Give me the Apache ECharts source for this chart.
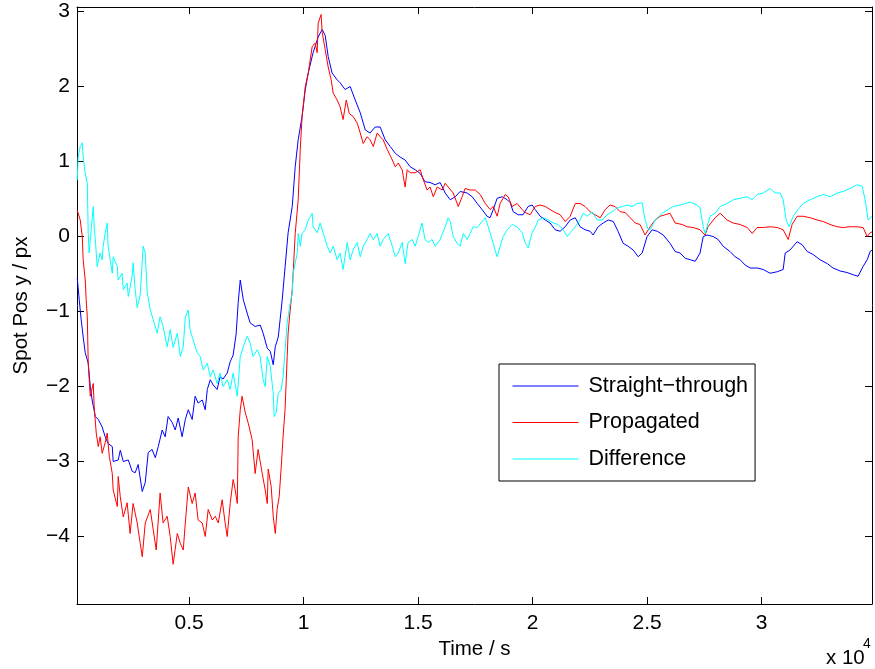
<!DOCTYPE html>
<html>
<head>
<meta charset="utf-8">
<script src="https://cdn.jsdelivr.net/npm/echarts@6/dist/echarts.min.js"></script>
<style>
  html, body { margin: 0; padding: 0; background: #fff; }
  #chart { width: 875px; height: 669px; }
</style>
</head>
<body>
<div id="chart"></div>
<script>
// Time in seconds, position in px
const seriesNames = ['Straight\u2212through', 'Propagated', 'Difference'];
const xTicks = [5000, 10000, 15000, 20000, 25000, 30000];
const yTicks = [-4, -3, -2, -1, 0, 1, 2, 3];

const straightThrough = [
[110,-0.55],[200,-0.85],[280,-1.1],[370,-1.34],[460,-1.55],[590,-1.69],[680,-2.0],[760,-2.18],[900,-2.4],[1030,-2.44],[1200,-2.54],[1330,-2.67],[1460,-2.76],[1640,-2.8],[1680,-3.0],[1900,-2.98],[1990,-2.85],[2120,-3.0],[2340,-2.98],[2510,-3.13],[2640,-3.15],[2770,-3.04],[2950,-3.4],[3080,-3.28],[3210,-2.88],[3380,-2.84],[3520,-2.95],[3650,-2.8],[3820,-2.58],[3950,-2.67],[4080,-2.4],[4260,-2.48],[4390,-2.58],[4520,-2.42],[4690,-2.67],[4830,-2.44],[4960,-2.31],[5130,-2.44],[5260,-2.13],[5390,-2.22],[5570,-2.18],[5700,-2.31],[5790,-2.04],[5920,-1.91],[6050,-1.98],[6220,-2.04],[6350,-1.87],[6480,-1.9],[6660,-1.82],[6790,-1.67],[6920,-1.58],[7050,-1.3],[7140,-0.88],[7230,-0.58],[7360,-0.84],[7530,-1.02],[7660,-1.15],[7880,-1.2],[8100,-1.18],[8230,-1.29],[8410,-1.49],[8540,-1.53],[8670,-1.71],[8760,-1.47],[8890,-1.34],[8970,-1.11],[9060,-0.85],[9190,-0.4],[9320,0.05],[9500,0.4],[9630,0.93],[9760,1.29],[9930,1.6],[10070,1.96],[10200,2.18],[10410,2.45],[10630,2.66],[10810,2.76],[10940,2.68],[11070,2.4],[11240,2.18],[11460,2.09],[11590,2.05],[11810,1.96],[12030,2.0],[12250,1.82],[12470,1.65],[12690,1.42],[12900,1.38],[13120,1.46],[13340,1.46],[13560,1.29],[13780,1.2],[14000,1.11],[14210,1.06],[14430,1.02],[14650,0.93],[14870,0.89],[15090,0.84],[15300,0.73],[15520,0.72],[15740,0.69],[15960,0.72],[16180,0.58],[16400,0.49],[16620,0.53],[16830,0.6],[17140,0.58],[17360,0.53],[17580,0.44],[17790,0.36],[18010,0.27],[18140,0.25],[18280,0.36],[18450,0.51],[18670,0.53],[18890,0.49],[19020,0.45],[19150,0.33],[19370,0.29],[19580,0.29],[19800,0.4],[19980,0.42],[20110,0.36],[20330,0.27],[20550,0.22],[20760,0.18],[20980,0.09],[21200,0.07],[21420,0.13],[21640,0.22],[21860,0.25],[22070,0.13],[22290,0.09],[22510,0.07],[22640,0.02],[22860,0.13],[23080,0.18],[23300,0.22],[23520,0.2],[23730,0.07],[23950,-0.09],[24170,-0.13],[24390,-0.18],[24610,-0.27],[24780,-0.22],[25000,0.0],[25220,0.09],[25440,0.07],[25700,0.02],[26000,-0.09],[26220,-0.2],[26440,-0.22],[26660,-0.29],[26880,-0.31],[27100,-0.33],[27310,-0.22],[27450,0.0],[27620,0.02],[27880,0.0],[28100,-0.04],[28320,-0.13],[28620,-0.2],[28840,-0.27],[29060,-0.31],[29280,-0.38],[29500,-0.42],[29800,-0.42],[30070,-0.44],[30370,-0.49],[30680,-0.47],[30940,-0.44],[31030,-0.22],[31240,-0.18],[31550,-0.07],[31770,-0.11],[31990,-0.2],[32250,-0.24],[32550,-0.31],[32860,-0.36],[33120,-0.42],[33430,-0.46],[33730,-0.48],[34000,-0.51],[34210,-0.53],[34430,-0.4],[34610,-0.31],[34740,-0.2],[34820,-0.18]
];

const propagated = [
[110,0.35],[240,0.22],[330,0.0],[370,-0.31],[460,-0.58],[500,-0.84],[550,-1.07],[590,-1.69],[680,-2.13],[810,-1.96],[850,-2.27],[940,-2.62],[1030,-2.8],[1110,-2.67],[1200,-2.89],[1330,-2.75],[1420,-2.62],[1510,-2.93],[1640,-3.16],[1680,-3.38],[1860,-3.6],[1900,-3.2],[1990,-3.47],[2120,-3.74],[2290,-3.55],[2420,-3.96],[2550,-3.56],[2730,-3.82],[2860,-4.09],[2950,-4.27],[3080,-3.82],[3300,-3.64],[3430,-3.91],[3560,-4.18],[3730,-3.42],[3860,-3.82],[4040,-3.73],[4170,-4.0],[4300,-4.37],[4480,-3.96],[4610,-4.09],[4740,-4.18],[4830,-3.82],[4960,-3.34],[5130,-3.56],[5260,-3.42],[5390,-3.78],[5570,-3.82],[5700,-4.0],[5830,-3.64],[6010,-3.78],[6140,-3.73],[6270,-3.82],[6440,-3.51],[6570,-3.82],[6660,-4.0],[6790,-3.56],[6920,-3.24],[7010,-3.38],[7100,-3.56],[7140,-2.67],[7230,-2.31],[7310,-2.13],[7450,-2.35],[7580,-2.49],[7750,-2.71],[7880,-3.16],[8010,-2.84],[8190,-3.16],[8320,-3.38],[8410,-3.56],[8450,-3.1],[8580,-3.33],[8670,-3.73],[8760,-3.96],[8840,-3.64],[8930,-3.47],[9020,-3.07],[9100,-2.67],[9190,-2.29],[9280,-1.6],[9320,-1.29],[9410,-0.98],[9500,-0.71],[9540,-0.49],[9630,0.04],[9760,0.49],[9850,1.16],[9930,1.6],[10070,2.0],[10200,2.18],[10370,2.53],[10500,2.58],[10590,2.45],[10630,2.84],[10760,2.96],[10810,2.72],[10940,2.49],[11070,2.26],[11200,2.09],[11290,1.91],[11460,1.82],[11590,1.73],[11720,1.56],[11860,1.82],[11990,1.64],[12160,1.6],[12340,1.51],[12470,1.38],[12600,1.24],[12770,1.33],[12900,1.29],[13040,1.2],[13210,1.38],[13340,1.33],[13470,1.29],[13650,1.16],[13870,1.02],[14000,0.93],[14130,0.98],[14300,0.89],[14430,0.66],[14520,0.89],[14650,0.85],[14870,0.85],[15090,0.89],[15220,0.76],[15390,0.62],[15520,0.66],[15660,0.53],[15830,0.66],[16050,0.62],[16180,0.71],[16310,0.66],[16530,0.58],[16750,0.4],[16920,0.53],[17050,0.64],[17270,0.62],[17490,0.62],[17710,0.56],[17930,0.44],[18140,0.36],[18280,0.4],[18450,0.27],[18580,0.44],[18800,0.56],[18930,0.53],[19100,0.4],[19320,0.44],[19540,0.36],[19670,0.32],[19890,0.29],[20110,0.4],[20330,0.42],[20550,0.4],[20760,0.36],[20980,0.32],[21200,0.29],[21420,0.2],[21640,0.27],[21860,0.44],[22070,0.44],[22290,0.4],[22510,0.33],[22730,0.29],[22950,0.25],[23170,0.36],[23380,0.42],[23600,0.4],[23820,0.33],[24040,0.32],[24260,0.25],[24480,0.18],[24690,0.16],[24910,0.02],[25130,0.13],[25350,0.22],[25570,0.27],[25790,0.29],[26000,0.31],[26220,0.18],[26530,0.16],[26750,0.13],[27010,0.12],[27310,0.09],[27530,0.02],[27660,0.13],[27970,0.25],[28190,0.31],[28490,0.22],[28760,0.18],[29060,0.16],[29370,0.12],[29590,0.04],[29800,0.12],[30070,0.12],[30370,0.13],[30680,0.12],[30940,0.09],[31160,-0.04],[31330,0.16],[31550,0.27],[31810,0.27],[32120,0.25],[32420,0.22],[32690,0.2],[32990,0.16],[33300,0.13],[33560,0.12],[33860,0.13],[34170,0.13],[34430,0.12],[34610,0.0],[34740,0.05],[34820,0.06]
];

const difference = [
[110,0.75],[150,1.06],[240,1.2],[330,1.25],[370,1.06],[460,0.84],[550,0.71],[590,0.04],[630,-0.22],[720,0.09],[810,0.4],[850,0.13],[900,-0.04],[980,-0.4],[1110,-0.22],[1200,-0.31],[1240,-0.13],[1330,0.04],[1420,0.18],[1460,-0.13],[1550,-0.31],[1640,-0.49],[1680,-0.27],[1860,-0.4],[1900,-0.58],[2070,-0.49],[2120,-0.71],[2290,-0.62],[2340,-0.8],[2510,-0.53],[2550,-0.35],[2640,-0.71],[2730,-0.95],[2860,-0.78],[2990,-0.13],[3080,-0.22],[3170,-0.75],[3300,-0.98],[3430,-1.11],[3600,-1.29],[3730,-1.07],[3860,-1.2],[4040,-1.47],[4170,-1.24],[4300,-1.48],[4480,-1.29],[4610,-1.6],[4740,-1.47],[4830,-1.07],[4960,-0.98],[5040,-1.24],[5170,-1.38],[5350,-1.55],[5480,-1.6],[5610,-1.78],[5790,-1.69],[5920,-1.87],[6050,-1.78],[6220,-1.96],[6350,-1.82],[6480,-2.0],[6660,-1.91],[6790,-2.04],[6920,-1.82],[7100,-2.13],[7230,-1.6],[7360,-1.47],[7530,-1.33],[7660,-1.42],[7790,-1.6],[7970,-1.51],[8100,-1.6],[8230,-1.91],[8320,-2.0],[8410,-1.6],[8540,-1.73],[8670,-2.09],[8710,-2.4],[8800,-2.35],[8890,-2.09],[9020,-2.04],[9100,-1.87],[9190,-1.51],[9280,-1.15],[9410,-0.89],[9500,-0.76],[9540,-0.49],[9720,-0.22],[9760,0.04],[9850,-0.13],[9930,0.04],[10070,0.09],[10200,0.22],[10370,0.31],[10410,0.13],[10590,0.05],[10720,0.18],[10850,0.05],[11030,-0.13],[11160,-0.22],[11290,-0.13],[11460,-0.31],[11590,-0.22],[11720,-0.44],[11900,-0.08],[12030,-0.31],[12160,-0.18],[12340,-0.08],[12470,-0.27],[12600,-0.13],[12770,-0.04],[12900,0.04],[13040,-0.04],[13210,0.04],[13340,-0.13],[13470,-0.04],[13690,0.04],[13870,-0.13],[14000,-0.27],[14130,-0.22],[14300,-0.08],[14430,-0.36],[14560,-0.08],[14740,-0.04],[14870,-0.13],[15000,0.0],[15170,0.18],[15300,-0.04],[15440,-0.08],[15610,-0.04],[15740,-0.13],[15960,-0.04],[16180,0.13],[16310,0.25],[16400,0.2],[16530,0.0],[16700,-0.09],[16830,-0.13],[16970,0.04],[17140,-0.04],[17270,0.04],[17400,0.13],[17580,0.12],[17790,0.2],[17930,0.25],[18060,0.13],[18230,-0.04],[18360,-0.18],[18450,-0.27],[18580,-0.13],[18710,0.0],[18890,0.09],[19100,0.16],[19320,0.13],[19540,0.05],[19670,-0.08],[19800,-0.15],[19980,0.05],[20110,0.12],[20240,0.22],[20460,0.25],[20680,0.22],[20900,0.18],[21110,0.16],[21330,0.09],[21510,0.0],[21640,0.05],[21860,0.13],[22070,0.22],[22210,0.31],[22380,0.27],[22600,0.33],[22820,0.22],[23040,0.22],[23250,0.29],[23470,0.33],[23690,0.38],[23910,0.4],[24130,0.42],[24340,0.4],[24560,0.44],[24780,0.45],[24910,0.22],[25040,0.1],[25130,0.09],[25350,0.22],[25660,0.31],[25920,0.36],[26140,0.4],[26440,0.42],[26660,0.44],[26880,0.46],[27180,0.42],[27310,0.38],[27450,0.13],[27530,0.04],[27750,0.27],[27970,0.31],[28190,0.4],[28490,0.44],[28760,0.49],[29060,0.51],[29370,0.53],[29590,0.49],[29800,0.56],[30070,0.58],[30370,0.64],[30590,0.58],[30810,0.58],[30940,0.49],[31070,0.22],[31200,0.13],[31380,0.27],[31590,0.36],[31810,0.44],[32120,0.49],[32420,0.53],[32690,0.56],[32990,0.53],[33300,0.58],[33560,0.6],[33860,0.64],[34170,0.69],[34390,0.67],[34520,0.49],[34650,0.22],[34820,0.27]
];

const FONT = 'Liberation Sans, Arial, Helvetica, sans-serif';
const xMin = 100, xMax = 34820, yMin = -4.9, yMax = 3.06;

function fmtY(v) { return v < 0 ? '\u2212' + (-v) : String(v); }
function fmtX(v) { return String(v / 10000); }

const chart = echarts.init(document.getElementById('chart'), null, { renderer: 'canvas' });

const axisLineStyle = { show: true, onZero: false, lineStyle: { color: '#000', width: 1 } };

const option = {
  animation: false,
  backgroundColor: '#fff',
  textStyle: { fontFamily: FONT },
  grid: { left: 77, right: 3, top: 7, bottom: 65, containLabel: false },
  xAxis: [
    {
      type: 'value', position: 'bottom', min: xMin, max: xMax,
      axisLine: axisLineStyle,
      axisTick: { show: true, inside: true, length: 7, customValues: xTicks, lineStyle: { color: '#000' } },
      axisLabel: { show: true, customValues: xTicks, formatter: fmtX, fontSize: 21, color: '#000', margin: 9, fontFamily: FONT },
      splitLine: { show: false },
      name: 'Time / s', nameLocation: 'middle', nameGap: 35,
      nameTextStyle: { fontSize: 20.5, color: '#000', fontFamily: FONT }
    },
    {
      type: 'value', position: 'top', min: xMin, max: xMax,
      axisLine: axisLineStyle,
      axisTick: { show: true, inside: true, length: 7, customValues: xTicks, lineStyle: { color: '#000' } },
      axisLabel: { show: false },
      splitLine: { show: false }
    }
  ],
  yAxis: [
    {
      type: 'value', position: 'left', min: yMin, max: yMax,
      axisLine: axisLineStyle,
      axisTick: { show: true, inside: true, length: 7, customValues: yTicks, lineStyle: { color: '#000' } },
      axisLabel: { show: true, customValues: yTicks, formatter: fmtY, fontSize: 21, color: '#000', margin: 7, fontFamily: FONT },
      splitLine: { show: false },
      name: 'Spot Pos y / px', nameLocation: 'middle', nameGap: 45, nameRotate: 90,
      nameTextStyle: { fontSize: 20.5, color: '#000', fontFamily: FONT }
    },
    {
      type: 'value', position: 'right', min: yMin, max: yMax,
      axisLine: axisLineStyle,
      axisTick: { show: true, inside: true, length: 7, customValues: yTicks, lineStyle: { color: '#000' } },
      axisLabel: { show: false },
      splitLine: { show: false }
    }
  ],
  legend: {
    orient: 'vertical', left: 499, top: 364,
    padding: [11, 7, 11, 13],
    itemWidth: 66, itemHeight: 14, itemGap: 14.5,
    borderColor: '#000', borderWidth: 1, backgroundColor: '#fff',
    itemStyle: { opacity: 0, borderWidth: 0 },
    lineStyle: { width: 1 },
    textStyle: { fontSize: 21.5, color: '#000', fontFamily: FONT, padding: [0, 0, 0, 5] },
    data: seriesNames
  },
  series: [
    { name: seriesNames[0], type: 'line', data: straightThrough, symbol: 'none', showSymbol: false,
      lineStyle: { color: '#0000ff', width: 1 }, itemStyle: { color: '#0000ff' }, xAxisIndex: 0, yAxisIndex: 0 },
    { name: seriesNames[1], type: 'line', data: propagated, symbol: 'none', showSymbol: false,
      lineStyle: { color: '#ff0000', width: 1 }, itemStyle: { color: '#ff0000' }, xAxisIndex: 0, yAxisIndex: 0 },
    { name: seriesNames[2], type: 'line', data: difference, symbol: 'none', showSymbol: false,
      lineStyle: { color: '#00ffff', width: 1 }, itemStyle: { color: '#00ffff' }, xAxisIndex: 0, yAxisIndex: 0 }
  ],
  graphic: [
    { type: 'text', left: 826, top: 648, style: { text: 'x 10', fontSize: 20.5, fill: '#000', fontFamily: FONT } },
    { type: 'text', left: 863, top: 637, style: { text: '4', fontSize: 14, fill: '#000', fontFamily: FONT } }
  ]
};

chart.setOption(option);
</script>
</body>
</html>
